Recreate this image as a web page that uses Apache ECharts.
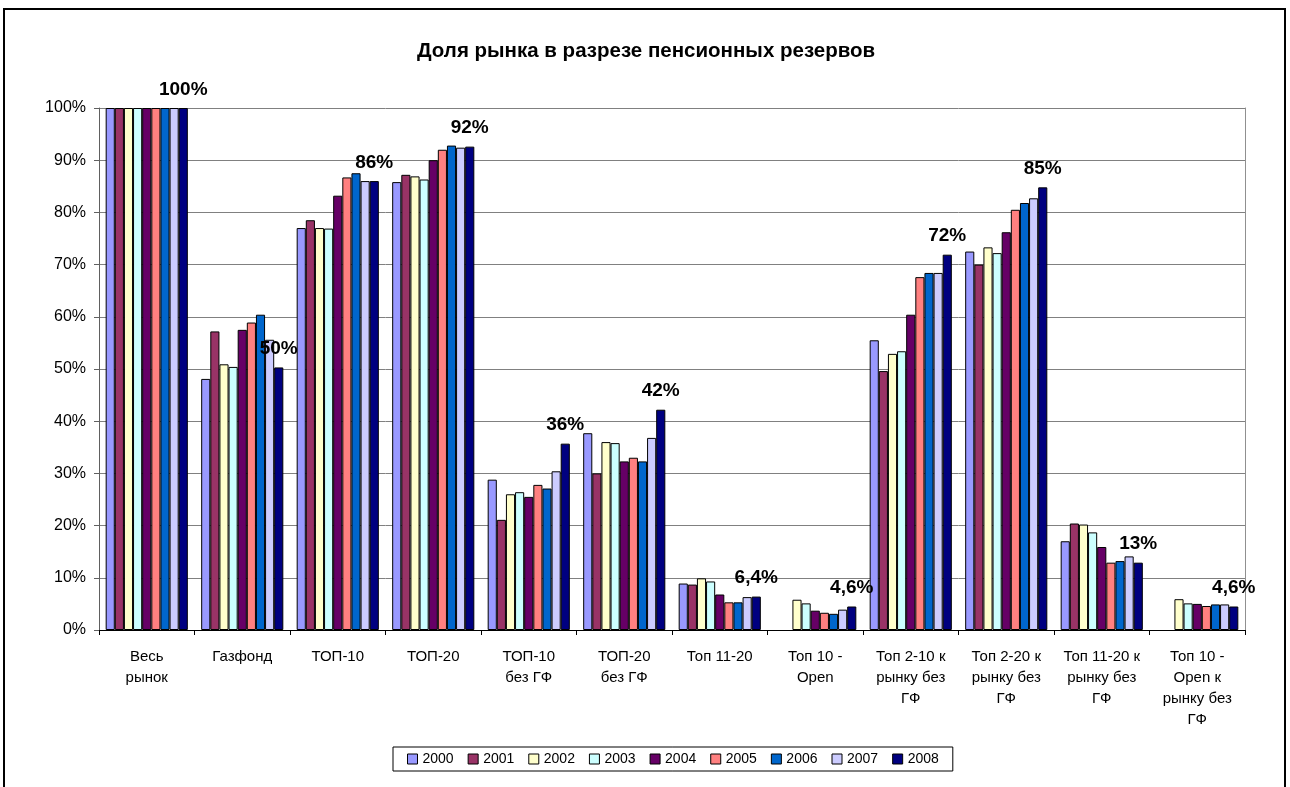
<!DOCTYPE html>
<html>
<head>
<meta charset="utf-8">
<script src="https://cdn.jsdelivr.net/npm/echarts@6/dist/echarts.min.js"></script>
<style>
  html, body { margin: 0; padding: 0; background: #fff; }
  #chart { width: 1290px; height: 787px; }
</style>
</head>
<body>
<div id="chart"></div>
<script>
// categories and years
const categories = [
  'Весь\nрынок', 'Газфонд', 'ТОП-10', 'ТОП-20', 'ТОП-10\nбез ГФ', 'ТОП-20\nбез ГФ',
  'Топ 11-20', 'Топ 10 -\nOpen', 'Топ 2-10 к\nрынку без\nГФ', 'Топ 2-20 к\nрынку без\nГФ',
  'Топ 11-20 к\nрынку без\nГФ', 'Топ 10 -\nOpen к\nрынку без\nГФ'
]
const years = ['2000', '2001', '2002', '2003', '2004', '2005', '2006', '2007', '2008']
const yearColors = ['#9999FF', '#993366', '#FFFFCC', '#CCFFFF', '#660066', '#FF8080', '#0066CC', '#CCCCFF', '#000080']

// values per year, %, one entry per category
const v2000 = [100, 48.1, 77.0, 85.8, 28.8, 37.7, 8.9, null, 55.5, 72.5, 17.0, null]
const v2001 = [100, 57.2, 78.5, 87.2, 21.1, 30.0, 8.7, null, 49.6, 70.0, 20.4, null]
const v2002 = [100, 50.9, 77.0, 86.9, 26.0, 36.0, 9.9, 5.8, 52.9, 73.3, 20.2, 5.9]
const v2003 = [100, 50.4, 76.9, 86.3, 26.4, 35.8, 9.3, 5.1, 53.4, 72.2, 18.7, 5.1]
const v2004 = [100, 57.5, 83.2, 90.0, 25.5, 32.3, 6.8, 3.7, 60.4, 76.2, 15.9, 5.0]
const v2005 = [100, 58.9, 86.7, 92.0, 27.8, 33.0, 5.3, 3.3, 67.6, 80.5, 12.9, 4.6]
const v2006 = [100, 60.4, 87.5, 92.8, 27.1, 32.3, 5.3, 3.1, 68.4, 81.8, 13.2, 4.9]
const v2007 = [100, 55.6, 86.0, 92.4, 30.4, 36.8, 6.3, 3.9, 68.4, 82.7, 14.1, 4.9]
const v2008 = [100, 50.3, 86.0, 92.6, 35.7, 42.2, 6.4, 4.5, 71.9, 84.8, 12.9, 4.5]
const yearValues = [v2000, v2001, v2002, v2003, v2004, v2005, v2006, v2007, v2008]

// labels above the 2008 bars
const labels2008 = ['100%', '50%', '86%', '92%', '36%', '42%', '6,4%', '4,6%', '72%', '85%', '13%', '4,6%']

const font = 'Liberation Sans, Arial, sans-serif'

const series = years.map((y, i) => ({
  name: y,
  type: 'bar',
  data: yearValues[i],
  barGap: 0,
  barCategoryGap: '14%',
  itemStyle: { color: yearColors[i], borderColor: '#000', borderWidth: 1 },
  label: i === years.length - 1 ? {
    show: true,
    position: 'top',
    distance: 9,
    formatter: p => labels2008[p.dataIndex],
    color: '#000',
    fontFamily: font,
    fontWeight: 'bold',
    fontSize: 19
  } : { show: false }
}))

const chart = echarts.init(document.getElementById('chart'), null, { renderer: 'canvas' })
chart.setOption({
  animation: false,
  backgroundColor: '#fff',
  title: {
    text: 'Доля рынка в разрезе пенсионных резервов',
    left: 412,
    top: 36,
    textStyle: { fontFamily: font, fontWeight: 'bold', fontSize: 20.5, color: '#000' }
  },
  legend: {
    data: years,
    left: 393,
    top: 747,
    padding: [5, 14],
    itemWidth: 10,
    itemHeight: 10,
    itemGap: 14,
    icon: 'rect',
    borderColor: '#000',
    borderWidth: 1,
    textStyle: { fontFamily: font, fontSize: 14, color: '#000' },
    itemStyle: { borderColor: '#000', borderWidth: 1 }
  },
  grid: { left: 99, right: 45, top: 108, bottom: 157, containLabel: false },
  xAxis: {
    type: 'category',
    data: categories,
    axisLine: { lineStyle: { color: '#000', width: 1 } },
    axisTick: { show: true, length: 5, lineStyle: { color: '#000' } },
    axisLabel: {
      interval: 0,
      margin: 16,
      lineHeight: 21,
      fontFamily: font,
      fontSize: 15,
      color: '#000'
    }
  },
  yAxis: [{
    type: 'value',
    min: 0,
    max: 100,
    interval: 10,
    axisLine: { show: true, lineStyle: { color: '#606060' } },
    axisTick: { show: true, length: 5, lineStyle: { color: '#606060' } },
    axisLabel: { formatter: '{value}%', margin: 13, fontFamily: font, fontSize: 16, color: '#000' },
    splitLine: { lineStyle: { color: '#808080', width: 1 } }
  }, {
    type: 'value',
    position: 'right',
    min: 0,
    max: 100,
    interval: 10,
    axisLine: { show: true, lineStyle: { color: '#909090' } },
    axisTick: { show: false },
    axisLabel: { show: false },
    splitLine: { show: false }
  }],
  series: series,
  graphic: [{
    type: 'rect',
    shape: { x: 4, y: 9, width: 1281, height: 800 },
    style: { fill: 'none', stroke: '#000', lineWidth: 2 },
    silent: true
  }]
})
</script>
</body>
</html>
